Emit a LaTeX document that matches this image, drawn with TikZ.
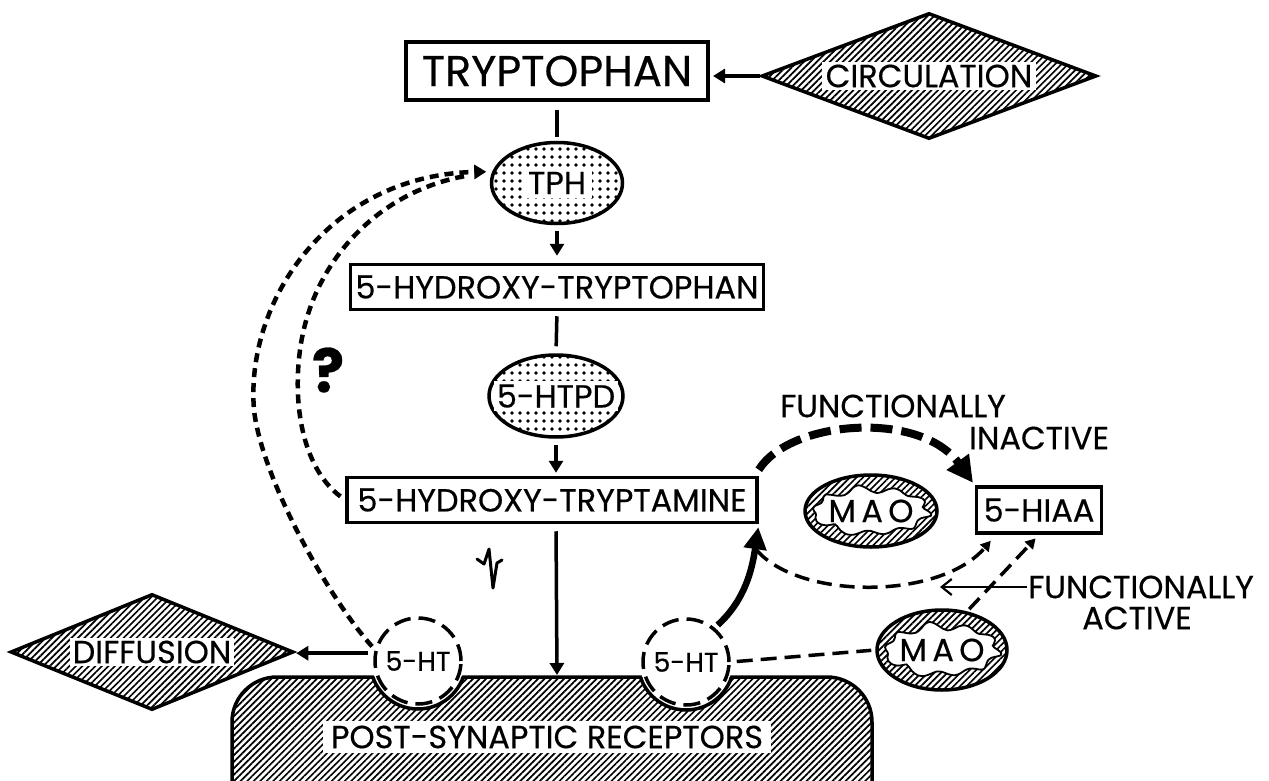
\documentclass[tikz,border=0pt]{standalone}
\usepackage{fontspec}
\setmainfont{Poppins}[FakeBold=0.45]
\usetikzlibrary{shapes.geometric,patterns.meta,arrows.meta,calc}
\begin{document}
\begin{tikzpicture}[x=1pt,y=-1pt,
  fs/.style={font=\fontsize{32}{34}\selectfont},
  fss/.style={font=\fontsize{27}{29}\selectfont},
  box/.style={draw,rectangle,line width=3.5pt,inner sep=0pt,fs},
  dotell/.style={draw,ellipse,line width=3.5pt,inner sep=0pt,pattern={Dots[distance=8pt,radius=1.8pt]}},
  hatchpat/.style={pattern={Lines[angle=45,distance=4.6pt,line width=1.7pt]}},
  hatchell/.style={draw,ellipse,line width=3.5pt,inner sep=0pt,hatchpat},
  hatchdia/.style={draw,diamond,line width=3.5pt,inner sep=0pt,hatchpat},
  wlbl/.style={fs,fill=white,inner xsep=4pt,inner ysep=3pt},
  txt/.style={fs,inner sep=1pt},
  conn/.style={line width=3.5pt},
  arr/.style={conn,-{Triangle[length=12pt,width=14pt]}},
  fb/.style={line width=4.5pt,dash pattern=on 9pt off 6pt},
  htc/.style={draw,circle,line width=3.5pt,dash pattern=on 17pt off 8pt,fill=white,minimum size=86pt,inner sep=0pt,fss},
  mdash/.style={line width=3.5pt,dash pattern=on 15pt off 8pt},
]
\useasboundingbox (0,0) rectangle (1269,781);

% ---------- receptor block ----------
\begin{scope}
  \clip[rounded corners=45pt] (232,677) rectangle (872,860);
  \path[hatchpat,even odd rule] (232,677) rectangle (872,860)
       (418,661) circle[radius=48] (686,662) circle[radius=48];
\end{scope}
\draw[line width=3.5pt,rounded corners=45pt] (232,677) rectangle (872,860);
\fill[white] (418,661) circle[radius=46.2] (686,662) circle[radius=46.2];
\begin{scope}
  \clip[rounded corners=45pt] (232,677) rectangle (872,860);
  \draw[line width=3.5pt] (418,661) circle[radius=48] (686,662) circle[radius=48];
\end{scope}
\node[wlbl,inner xsep=8pt,inner ysep=5pt] (rec) at (547,737) {POST-SYNAPTIC RECEPTORS};
\coordinate (recTop) at (557,677);

% ---------- main column ----------
\node[box,line width=4pt,minimum width=302pt,minimum height=58pt,font=\fontsize{43}{45}\selectfont] (tryp) at (557,71) {TRYPTOPHAN};
\node[hatchdia,minimum width=335pt,minimum height=126pt] (circ) at (929,76) {};
\node[wlbl] (circt) at (circ) {CIRCULATION};

\node[dotell,minimum width=131pt,minimum height=81pt] (tph) at (557,183) {};
\node[fs,fill=white,inner xsep=6pt,inner ysep=4pt] (tpht) at (tph) {TPH};

\node[box,minimum width=413pt,minimum height=45pt] (htp) at (557,287) {5-HYDROXY-TRYPTOPHAN};

\node[dotell,minimum width=134pt,minimum height=82pt] (htpd) at (556,396) {};
\node[fs,fill=white,inner xsep=3pt,inner ysep=3pt] (htpdt) at (htpd) {5-HTPD};

\node[box,minimum width=410pt,minimum height=45pt] (ht) at (552,500) {5-HYDROXY-TRYPTAMINE};

% ---------- right side ----------
\node[hatchell,minimum width=132pt,minimum height=72pt] (mao1) at (871,511) {};
\draw[line width=1.8pt,fill=white] plot[smooth cycle,domain=0:354,samples=60]
  ({871+57*cos(\x)*(1+0.05*sin(10*\x)+0.03*sin(7*\x))},{511+22*sin(\x)*(1+0.14*sin(10*\x+40)+0.06*cos(7*\x))});
\node[fs] (mao1t) at (mao1) {M\,A\,O};

\node[box,minimum width=125pt,minimum height=46pt] (hiaa) at (1039,510) {5-HIAA};

\node[hatchell,minimum width=130pt,minimum height=80pt] (mao2) at (942,650) {};
\draw[line width=1.8pt,fill=white] plot[smooth cycle,domain=0:354,samples=60]
  ({942+56*cos(\x)*(1+0.05*sin(10*\x)+0.03*sin(7*\x))},{650+24*sin(\x)*(1+0.14*sin(10*\x+40)+0.06*cos(7*\x))});
\node[fs] (mao2t) at (mao2) {M\,A\,O};

\node[txt] (fi1) at (893,406) {FUNCTIONALLY};
\node[txt] (fi2) at (1039,438) {INACTIVE};
\node[txt] (fa1) at (1141,587) {FUNCTIONALLY};
\node[txt] (fa2) at (1137,618) {ACTIVE};

% ---------- left side ----------
\node[htc] (sht1) at (418,661) {5-HT};
\node[htc] (sht2) at (686,662) {5-HT};
\node[hatchdia,minimum width=283pt,minimum height=116pt] (diff) at (152,652) {};
\node[fs,fill=white,inner xsep=3pt,inner ysep=3pt] (difft) at (diff) {DIFFUSION};
\node[font=\fontsize{60}{62}\selectfont\bfseries] (qm) at (328,370) {?};

% impulse symbol
\draw[line width=3pt,line join=round,line cap=round] (477,559) -- (484,564) -- (489,549) -- (493,588) -- (497,563) -- (502,560);

% ---------- connectors ----------
\draw[arr,shorten >=3pt] (circ.west) -- (circ.west -| tryp.east);
\draw[conn,shorten <=8pt,shorten >=4pt] (tryp.south) -- (tph.north);
\draw[arr,shorten <=6pt,shorten >=7pt] (tph.south) -- (htp.north);
\draw[conn,shorten <=5pt,shorten >=7pt] (htp.south) -- (htpd.north);
\draw[arr,shorten <=6pt,shorten >=3pt] (htpd.south) -- (htpd.south |- ht.north);
\draw[arr,shorten <=7pt,shorten >=2pt] (htpd.south |- ht.south) -- (recTop);

\draw[arr,shorten <=6pt,shorten >=1pt] (sht1.170) -- (sht1.170 -| diff.east);

% feedback to TPH
\draw[fb,-{Triangle[length=12pt,width=14pt]},shorten <=4pt,shorten >=6pt]
  (sht1.165) .. controls (330,600) and (262,480) .. (254,410)
  .. controls (245,300) and (330,175) .. (tph.170);
\draw[fb,shorten <=6pt,shorten >=24pt]
  (ht.west) .. controls (305,470) and (292,410) .. (300,350)
  .. controls (312,260) and (380,190) .. (tph.170);

% functionally inactive
\draw[line width=8pt,dash pattern=on 22pt off 9pt,-{Triangle[length=26pt,width=26pt]},shorten >=3pt]
  ($(ht.north east)+(0,-6)$) .. controls (790,420) and (920,410) .. (hiaa.north west);

% thick arrow from 5-HT to 5-HT box
\draw[line width=6.5pt,-{Triangle[length=22pt,width=22pt]},shorten <=4pt,shorten >=3pt]
  (sht2.50) .. controls (745,600) and (752,570) .. (ht.south east);

% lower arc
\draw[mdash,-{Triangle[length=10pt,width=11pt]}]
  ($(ht.south east)+(-2,26)$) .. controls (800,600) and (940,600) .. ($(hiaa.south west)+(16,6)$);
\draw[mdash,-{Triangle[length=10pt,width=11pt]},shorten <=3pt,shorten >=5pt] (mao2.57) -- (hiaa.south);
\draw[mdash,dash pattern=on 16pt off 8pt,shorten <=6pt,shorten >=4pt] (sht2.east) -- (mao2.west);

\coordinate (arctip) at (940,587);
\draw[line width=2.2pt,-{Straight Barb[length=10pt,width=16pt]}] (fa1.west) -- (arctip);
\end{tikzpicture}
\end{document}
